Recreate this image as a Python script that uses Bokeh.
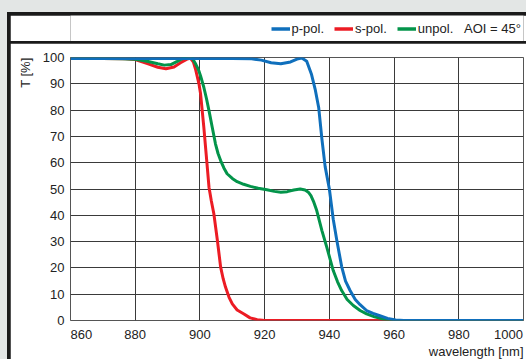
from bokeh.plotting import figure
from bokeh.layouts import column
from bokeh.models import (FixedTicker, Label, Legend, LegendItem, Range1d, Title)
from bokeh.embed import file_html
from bokeh.resources import INLINE

# ---------------- data ----------------
x_ticks = [860, 880, 900, 920, 940, 960, 980, 1000]
y_ticks = [0, 10, 20, 30, 40, 50, 60, 70, 80, 90, 100]

wl_p = [860, 870, 880, 890, 900, 910, 916, 919, 922, 925, 928, 930, 931.5, 933, 934.5,
        935.6, 936.7, 937.7, 938.7, 940, 941.2, 942.3, 943.8, 945, 946.4, 948, 949.5,
        951.5, 953.5, 955.6, 958, 960.5, 963, 970, 980, 990, 1000]
t_p = [99.6, 99.6, 99.6, 99.6, 99.6, 99.6, 99.5, 99.0, 98.0, 97.6, 98.3, 99.4, 99.8,
       98.6, 93.5, 88.0, 81.0, 69.0, 58.5, 50.0, 38.5, 30.5, 20.5, 15.0, 11.4, 8.0, 6.0,
       3.8, 2.7, 1.8, 0.8, 0.2, 0, 0, 0, 0, 0]

wl_s = [860, 870, 877, 880, 884, 887, 889.5, 892, 894, 896, 897.1, 898, 898.7, 899.7,
        900.2, 901.2, 902.1, 902.8, 903.5, 904.3, 905.4, 906.4, 907.2, 907.9, 909, 910,
        911.5, 913.6, 915.5, 917.7, 920, 940, 960, 980, 1000]
t_s = [99.6, 99.6, 99.5, 99.2, 97.6, 96.3, 95.7, 96.4, 98.0, 99.4, 99.7, 98.2, 95.3,
       90.0, 86.2, 73.5, 60.8, 50.7, 45.6, 40.6, 30.4, 20.3, 15.8, 12.7, 8.8, 6.3, 4.0,
       2.5, 1.0, 0.3, 0, 0, 0, 0, 0]

wl_u = [860, 870, 876, 880, 884, 887, 889, 891, 893, 895, 896.2, 897.5, 898.7, 899.5,
        900.2, 901.2, 902.0, 902.8, 903.8, 904.8, 905.6, 906.4, 907.4, 908.4, 910, 911.5,
        913.5, 915.6, 918, 920.7, 923, 925, 927, 929, 931, 932.5, 933.5, 934.3, 935.2,
        936.1, 937.7, 939.2, 941.2, 942.5, 943.8, 945.5, 947.4, 949.5, 951.5, 954,
        956.6, 960, 970, 980, 990, 1000]
t_u = [99.6, 99.6, 99.5, 99.3, 98.5, 97.6, 97.1, 97.3, 98.5, 99.8, 100.3, 100.0, 97.5,
       95.5, 93.0, 88.7, 84.5, 79.8, 73.5, 67.2, 63.5, 60.8, 58.0, 55.8, 54.0, 52.8,
       51.8, 51.0, 50.3, 49.7, 49.1, 48.8, 49.0, 49.6, 50.0, 49.6, 48.8, 47.5, 45.0,
       41.8, 34.2, 27.9, 19.0, 14.8, 11.4, 8.0, 5.7, 3.8, 2.5, 1.4, 0.6, 0, 0, 0, 0, 0]

labels = ["p-pol.", "s-pol.", "unpol."]
note = "AOI = 45°"
x_title = "wavelength [nm]"
y_title = "T [%]"

BLUE = "#0f6fbc"
RED = "#ec1c24"
GREEN = "#03944a"
GRAY_BG = "#e3e6e5"
DARK = "#1a1a1a"
GRID = "#3a3a3a"
TXT = "#222222"
FONT = "Liberation Sans"
FS = "13px"
NB = "\u00a0"

# ---------------- header (legend band) ----------------
h = figure(width=516, height=26, output_backend="svg", toolbar_location=None,
           x_axis_type=None, y_axis_type=None, x_range=Range1d(860, 1000),
           y_range=Range1d(200, 300),
           min_border=0, min_border_left=0, min_border_right=0,
           min_border_top=0, min_border_bottom=0)
h.outline_line_color = None
h.grid.visible = False
h.background_fill_color = "white"
h.border_fill_color = "white"
lp = h.line(wl_p, t_p, line_color=BLUE, line_width=3.5, visible=False)
ls = h.line(wl_s, t_s, line_color=RED, line_width=3.5, visible=False)
lu = h.line(wl_u, t_u, line_color=GREEN, line_width=3.5, visible=False)
legend = Legend(items=[LegendItem(label=labels[0], renderers=[lp]),
                       LegendItem(label=labels[1], renderers=[ls]),
                       LegendItem(label=labels[2], renderers=[lu])],
                orientation="horizontal", location=(200.5, 5.2),
                glyph_width=19, glyph_height=15, label_standoff=2, spacing=10,
                padding=0, margin=0, border_line_color=None, background_fill_alpha=0,
                inactive_fill_alpha=0,
                label_text_font=FONT, label_text_font_size=FS, label_text_color=TXT,
                label_height=15)
h.add_layout(legend, "center")
h.add_layout(Label(x=393.5, y=12.7, x_units="screen", y_units="screen", text=note,
                   text_align="left", text_baseline="middle", text_font=FONT,
                   text_font_size=FS, text_color=TXT))

# ---------------- main chart ----------------
p = figure(width=516, height=316, output_backend="svg", toolbar_location=None,
           x_range=Range1d(860, 1000), y_range=Range1d(0, 100),
           min_border_left=59, min_border_right=3, min_border_top=14, min_border_bottom=39)
p.background_fill_color = "white"
p.border_fill_color = "white"
p.outline_line_color = "#555555"
p.outline_line_width = 1

for ax in (p.xaxis[0], p.yaxis[0]):
    ax.major_tick_line_color = None
    ax.minor_tick_line_color = None
    ax.major_tick_out = 0
    ax.major_tick_in = 0
    ax.minor_tick_out = 0
    ax.minor_tick_in = 0
    ax.axis_line_color = None
    ax.axis_label_standoff = 0
    ax.major_label_text_font = FONT
    ax.major_label_text_font_size = FS
    ax.major_label_text_color = TXT

p.xaxis.ticker = FixedTicker(ticks=x_ticks)
p.yaxis.ticker = FixedTicker(ticks=y_ticks)
p.xaxis.major_label_standoff = 6
p.yaxis.major_label_standoff = 6
# first label starts at its tick, last one ends at its tick
p.xaxis.major_label_overrides = {
    x_ticks[0]: NB * 6 + str(x_ticks[0]),
    x_ticks[-1]: str(x_ticks[-1]) + NB,
}

p.xgrid.ticker = FixedTicker(ticks=x_ticks)
p.ygrid.ticker = FixedTicker(ticks=y_ticks)
p.grid.grid_line_color = GRID
p.grid.grid_line_width = 1

p.line(wl_s, t_s, line_color=RED, line_width=3, line_join="round")
p.line(wl_u, t_u, line_color=GREEN, line_width=3, line_join="round")
p.line(wl_p, t_p, line_color=BLUE, line_width=3, line_join="round")

# axis titles, flush with the right end / top end of the plot area
p.add_layout(Title(text=x_title, align="right", text_font=FONT, text_font_size=FS,
                   text_font_style="normal", text_color=TXT, standoff=-5, offset=0), "below")
p.add_layout(Title(text=y_title, align="right", vertical_align="middle", text_font=FONT,
                   text_font_size=FS, text_font_style="normal", text_color=TXT,
                   standoff=12, offset=0), "left")

inner = column(h, p, spacing=2,
               styles={"background-color": DARK, "padding": "3px 0px 0px 3px"})
outer = column(inner, styles={"background-color": GRAY_BG, "padding": "12px 0px 0px 7px"})

open("out.html", "w").write(file_html(outer, INLINE))
